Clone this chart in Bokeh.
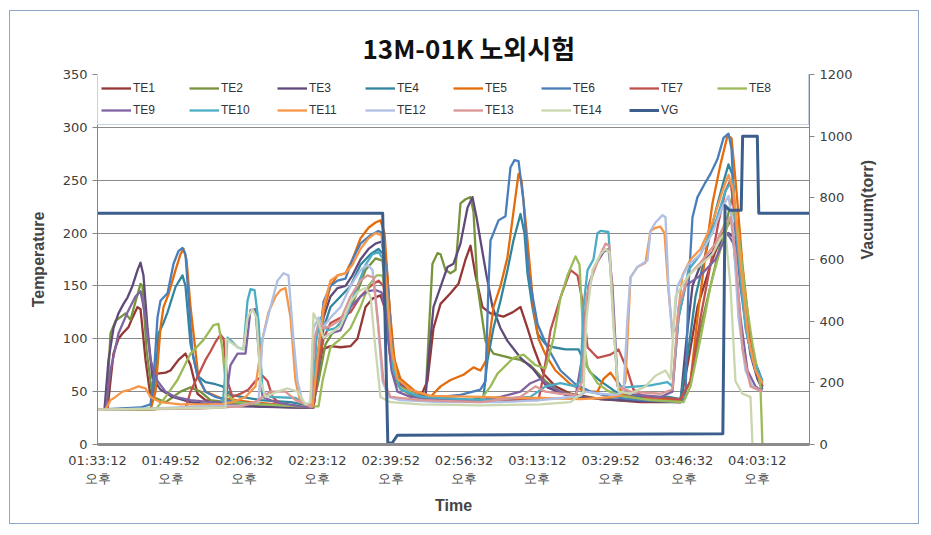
import math
from bokeh.plotting import figure
from bokeh.models import Range1d, LinearAxis, FixedTicker, Legend, LegendItem, InlineStyleSheet
from bokeh.embed import file_html
from bokeh.resources import INLINE

# ---------------- data (time = seconds after 01:33:12 PM) ----------------
tick_times = [0, 1000, 2000, 3000, 4000, 5000, 6000, 7000, 8000, 9000]
tick_labels = ["01:33:12\n오후", "01:49:52\n오후", "02:06:32\n오후", "02:23:12\n오후",
               "02:39:52\n오후", "02:56:32\n오후", "03:13:12\n오후", "03:29:52\n오후",
               "03:46:32\n오후", "04:03:12\n오후"]
temp_ticks = [0, 50, 100, 150, 200, 250, 300, 350]
vac_ticks = [0, 200, 400, 600, 800, 1000, 1200]

te1_t = [0,136,177,218,286,341,423,477,546,587,655,723,764,818,928,996,1105,1200,1269,1364,1473,1814,2223,2769,2933,3015,3069,3178,3315,3451,3546,3656,3751,3860,3915,3997,4065,4201,4406,4501,4583,4679,4815,4924,5020,5088,5156,5251,5361,5538,5661,5770,5865,5947,6083,6247,6452,6861,7407,7952,8061,8184,8361,8498,8634,8702,8798,8907,9002,9070]
te1_v = [33,33,60,86,100,105,111,120,130,128,80,45,60,67,68,70,80,86,75,48,42,38,36,35,35,70,90,93,92,93,100,130,138,141,130,80,58,50,45,60,110,133,143,152,175,188,160,130,124,121,125,130,110,92,67,55,48,43,40,40,80,130,170,195,212,205,150,90,65,55]

te2_t = [0,123,177,246,382,450,518,587,614,668,750,928,1132,1269,1405,1541,2223,2933,3015,3110,3246,3383,3519,3656,3792,3887,3942,4024,4106,4269,4474,4515,4569,4638,4679,4747,4815,4883,4951,5020,5088,5129,5183,5292,5401,5633,5770,5906,6111,6315,6588,7134,7952,8089,8225,8361,8498,8593,8661,8743,8839,8934,9016,9070]
te2_v = [33,33,105,117,124,118,135,152,150,90,45,40,50,54,50,42,36,35,60,95,110,120,140,165,176,174,140,75,55,47,43,100,171,181,180,165,162,165,228,232,234,220,150,98,86,82,80,75,60,50,45,42,41,60,110,150,190,215,235,200,130,85,62,55]

te3_t = [0,95,150,218,286,355,409,477,546,587,627,682,750,859,1023,1269,1541,1951,2769,2946,3015,3083,3178,3274,3383,3478,3587,3697,3792,3874,3942,4024,4106,4269,4474,4515,4583,4679,4774,4856,4951,5047,5115,5170,5224,5306,5388,5497,5592,5770,5947,6138,6384,6861,7407,7952,8034,8116,8225,8429,8607,8702,8798,8907,9002,9070]
te3_v = [33,33,80,110,124,133,139,150,165,172,160,110,63,52,45,40,38,36,35,35,80,120,140,148,150,160,175,185,190,192,170,90,60,48,45,80,130,149,168,171,190,224,234,215,193,160,130,110,98,82,71,54,47,43,41,40,100,150,170,185,200,195,140,85,62,52]

te4_t = [0,723,791,832,900,955,1023,1064,1159,1200,1269,1364,1473,1610,1705,1814,2223,2633,2946,3015,3083,3178,3315,3451,3587,3724,3833,3901,3969,4037,4133,4338,4542,5088,5265,5320,5401,5497,5592,5674,5770,5824,5865,5933,6002,6111,6220,6384,6561,6629,6725,6861,7065,7407,7788,7952,8061,8157,8293,8429,8525,8607,8661,8743,8839,8934,9070]
te4_v = [33,33,60,105,115,125,140,149,160,150,95,65,59,57,55,47,42,40,36,70,110,130,140,150,170,180,185,180,130,80,60,50,45,42,45,80,110,136,165,193,218,200,162,130,105,95,92,90,90,80,68,60,50,45,45,43,90,140,180,220,245,265,255,180,120,85,60]

te5_t = [0,723,791,859,900,968,1064,1132,1173,1214,1269,1310,1378,1473,1678,2087,2769,2946,3015,3083,3178,3274,3383,3478,3587,3697,3792,3860,3915,3983,4051,4133,4338,4542,4679,4815,4992,5129,5224,5306,5401,5497,5592,5674,5743,5783,5865,5947,6015,6111,6247,6452,6656,6820,6902,6997,7079,7161,7407,7952,8089,8184,8293,8388,8498,8593,8648,8716,8798,8907,9002,9070]
te5_v = [33,33,50,110,130,142,165,180,185,175,130,105,62,50,44,40,36,35,80,125,150,160,162,175,195,205,210,212,200,130,80,62,50,45,55,61,66,73,70,80,130,150,177,220,256,250,193,130,100,85,70,57,50,50,62,68,60,47,43,42,60,120,180,228,265,292,290,240,170,100,68,58]

te6_t = [0,587,723,764,818,859,955,1037,1105,1159,1200,1241,1296,1364,1473,1610,1814,2223,2769,2946,3015,3083,3178,3274,3383,3478,3587,3724,3833,3887,3956,4024,4106,4269,4542,4951,5224,5292,5333,5361,5470,5565,5633,5688,5743,5811,5879,6002,6138,6315,6520,6725,6997,7407,7952,8020,8061,8116,8184,8293,8361,8457,8539,8607,8648,8702,8771,8866,8975,9070]
te6_v = [33,35,38,60,120,136,143,171,183,186,180,140,86,65,50,45,41,38,36,35,90,135,150,155,157,175,190,198,202,200,150,80,58,48,44,47,52,60,150,193,212,216,262,269,268,230,162,114,92,70,57,50,45,42,40,45,149,215,234,248,256,270,290,294,280,200,149,101,70,54]

te7_t = [0,1200,1269,1337,1405,1473,1541,1610,1678,1719,1773,1841,1951,2060,2155,2251,2319,2387,2496,2769,2946,3015,3083,3178,3315,3451,3587,3724,3833,3901,3969,4037,4133,4406,4951,6015,6083,6179,6315,6452,6547,6615,6684,6820,6997,7106,7229,7311,7447,7952,8089,8225,8361,8470,8566,8634,8702,8798,8907,9002,9070]
te7_v = [33,34,50,60,70,80,88,97,104,100,60,45,48,52,60,65,60,45,38,36,35,75,100,115,120,125,140,150,155,150,110,70,55,45,42,42,65,108,139,165,160,136,92,82,85,90,70,52,45,43,60,120,170,210,240,250,210,150,95,65,55]

te8_t = [0,791,928,1091,1269,1446,1582,1650,1705,1760,1882,2223,2769,3015,3069,3178,3315,3451,3587,3697,3806,3887,3956,4024,4106,4406,5224,5361,5456,5674,5811,5974,6111,6220,6315,6411,6520,6575,6629,6684,6820,6956,7134,7543,7993,8089,8225,8361,8498,8607,8675,8743,8839,8934,9043,9070]
te8_v = [33,33,45,61,86,99,113,114,90,48,40,38,36,36,60,92,100,110,130,150,160,160,130,80,55,45,42,55,67,82,85,75,72,100,139,160,178,170,98,73,58,51,46,42,40,55,100,150,185,210,222,200,140,95,55,0]

te9_t = [0,109,177,286,409,518,587,655,723,818,928,1064,1269,1541,1746,1814,1910,2019,2087,2155,2196,2251,2428,2769,2933,2987,3042,3178,3315,3451,3587,3683,3792,3874,3942,4010,4092,4269,4679,5224,5497,5770,5906,6043,6179,6315,6520,6629,6697,6793,6902,6970,7024,7093,7202,7679,7843,7925,8020,8225,8429,8593,8675,8771,8866,8975,9070]
te9_v = [33,33,70,105,125,140,145,120,80,60,50,45,42,40,40,75,86,86,127,128,90,45,40,36,35,80,100,105,108,130,140,145,146,144,120,70,50,45,42,42,45,50,58,62,55,50,45,90,150,170,182,185,150,60,48,45,50,120,150,160,175,200,190,120,70,55,50]

te10_t = [0,1705,1746,1773,1841,1910,1991,2046,2087,2142,2196,2251,2360,2701,2837,2933,2987,3042,3137,3246,3383,3519,3656,3751,3833,3901,3969,4037,4133,4406,4951,5361,5906,6111,6315,6520,6588,6629,6684,6765,6820,6861,6970,7011,7093,7202,7543,7775,7843,7925,8061,8225,8429,8566,8661,8730,8839,8934,9070]
te10_v = [33,35,70,101,97,92,90,136,147,146,117,50,45,44,38,36,100,120,108,110,120,145,170,180,182,175,120,70,52,45,43,42,45,55,58,55,60,130,165,175,200,202,201,150,56,54,56,59,55,120,165,180,210,240,250,190,110,80,60]

te11_t = [0,109,177,246,341,450,559,655,723,859,1132,1678,1841,2019,2155,2251,2332,2428,2496,2564,2633,2701,2769,2933,3015,3083,3178,3274,3383,3478,3587,3697,3792,3874,3942,4010,4092,4269,4542,5224,5633,6043,6588,6861,7134,7202,7270,7366,7475,7543,7611,7679,7734,7788,7843,7897,7979,8089,8225,8388,8525,8607,8675,8771,8880,8975,9070]
te11_v = [33,33,42,45,50,52,55,53,45,40,38,38,40,45,55,100,125,140,146,148,120,60,40,36,90,130,155,160,162,170,185,195,200,198,150,90,62,52,46,45,44,44,43,44,46,60,158,168,172,202,205,206,200,146,105,110,160,175,185,210,240,255,240,170,100,70,58]

te12_t = [0,723,1405,1951,2196,2251,2292,2360,2455,2537,2605,2673,2728,2796,2905,2946,3015,3069,3178,3315,3451,3587,3683,3751,3819,3887,3969,4133,4679,5497,6043,6315,6588,6656,6861,7065,7175,7229,7270,7366,7502,7543,7611,7707,7748,7788,7843,7911,8061,8225,8388,8525,8607,8661,8743,8839,8934,9070]
te12_v = [33,34,36,37,40,100,111,130,155,162,160,100,60,40,36,110,120,110,120,130,150,165,170,165,120,60,45,42,40,40,42,44,46,50,48,47,50,120,158,168,174,202,210,217,215,150,100,150,170,180,200,225,235,210,120,70,55,50]

te13_t = [0,1405,1951,2155,2251,2360,2564,2701,2905,2960,3015,3083,3178,3315,3451,3587,3683,3765,3833,3901,3997,4406,5224,5770,5974,6111,6315,6520,6615,6670,6752,6861,6929,6984,7038,7093,7270,7679,7843,7925,8061,8225,8429,8566,8634,8702,8798,8907,9070]
te13_v = [33,34,36,40,45,50,50,42,36,100,115,110,112,118,140,155,160,158,110,60,45,42,40,45,55,50,48,47,60,140,160,180,190,188,120,55,50,48,52,130,160,172,190,210,215,180,90,55,50]

te14_t = [0,1746,1760,1814,1910,1991,2046,2114,2169,2223,2292,2455,2592,2728,2837,2905,2946,3015,3083,3178,3315,3451,3560,3656,3724,3792,3860,3997,4406,5224,6043,6452,6629,6670,6752,6861,6929,6984,7038,7106,7270,7475,7611,7748,7816,7884,8061,8225,8388,8498,8566,8634,8702,8798,8907,8934,9712]
te14_v = [33,35,100,97,92,90,120,128,120,60,45,50,53,50,38,40,124,115,101,105,112,135,145,148,140,90,45,40,38,37,38,40,50,120,165,180,185,182,110,50,48,55,65,70,62,140,160,170,180,195,200,150,60,48,45,0,0]

vg_t = [0,3890,3960,4020,4090,8530,8560,8620,8780,8800,9000,9020,9712]
vg_v = [750,750,5,5,30,35,775,760,760,1000,1000,750,750]

names = ["TE1","TE2","TE3","TE4","TE5","TE6","TE7","TE8","TE9","TE10","TE11","TE12","TE13","TE14","VG"]
colors = ["#953735","#77933C","#604A7B","#31859C","#E46C0A","#4A7EBB","#C0504D","#9BBB59",
          "#8064A2","#4BACC6","#F79646","#AFC0E4","#D99694","#C9D6AE","#3B5E8C"]
series_t = [te1_t,te2_t,te3_t,te4_t,te5_t,te6_t,te7_t,te8_t,te9_t,te10_t,te11_t,te12_t,te13_t,te14_t,vg_t]
series_v = [te1_v,te2_v,te3_v,te4_v,te5_v,te6_v,te7_v,te8_v,te9_v,te10_v,te11_v,te12_v,te13_v,te14_v,vg_v]

# ---------------- figure ----------------
p = figure(width=931, height=535, output_backend="svg", toolbar_location=None,
           x_range=Range1d(0, 9712), y_range=Range1d(0, 350),
           min_border_left=97, min_border_right=122, min_border_top=74, min_border_bottom=91)
p.extra_y_ranges = {"vac": Range1d(0, 1200)}
p.outline_line_color = None
p.background_fill_color = "white"
p.border_fill_color = "white"
p.stylesheets = [InlineStyleSheet(css=(
    ":host { position: relative; }"
    ":host::after { content: ''; position: absolute; left: 9px; top: 10px; width: 910px; height: 514px;"
    " border: 1px solid #8ea6c8; pointer-events: none; z-index: 100; box-sizing: border-box; }"))]

p.title.text = "13M-01K 노외시험"
p.title.align = "left"
p.title.offset = 265
p.title.text_font = "Noto Sans CJK KR"
p.title.text_font_size = "26px"
p.title.text_font_style = "bold"
p.title.text_color = "#111111"
p.title.standoff = 17

p.xgrid.visible = False
p.ygrid.grid_line_color = "#8a8a8a"
p.ygrid.grid_line_width = 1

# x axis
xa = p.xaxis[0]
xa.ticker = FixedTicker(ticks=tick_times)
xa.major_label_overrides = {t: l for t, l in zip(tick_times, tick_labels)}
xa.axis_label = "Time"
xa.axis_label_text_font = "Liberation Sans"
xa.axis_label_text_font_style = "bold"
xa.axis_label_text_font_size = "16px"
xa.axis_label_standoff = 8
xa.major_label_text_font = "DejaVu Sans"
xa.major_label_text_font_size = "13px"
xa.major_label_text_color = "#404040"
xa.major_label_standoff = 8
xa.major_tick_out = 0
xa.major_tick_in = 0
xa.minor_tick_out = 0
xa.minor_tick_in = 0
xa.axis_line_color = "#8c8c8c"
xa.axis_line_width = 3

# left axis
ya = p.yaxis[0]
ya.ticker = FixedTicker(ticks=temp_ticks)
ya.axis_label = "Temperature"
ya.axis_label_text_font = "Liberation Sans"
ya.axis_label_text_font_style = "bold"
ya.axis_label_text_font_size = "16px"
ya.axis_label_standoff = 13
ya.major_label_text_font = "DejaVu Sans"
ya.major_label_text_font_size = "13px"
ya.major_label_text_color = "#404040"
ya.major_label_standoff = 5
ya.major_tick_out = 5
ya.major_tick_in = 0
ya.minor_tick_out = 0
ya.minor_tick_in = 0
ya.axis_line_color = "#868686"
ya.major_tick_line_color = "#868686"

# right axis
ra = LinearAxis(y_range_name="vac", ticker=FixedTicker(ticks=vac_ticks), axis_label="Vacuum(torr)")
ra.axis_label_orientation = math.pi / 2
ra.axis_label_text_font = "Liberation Sans"
ra.axis_label_text_font_style = "bold"
ra.axis_label_text_font_size = "16px"
ra.axis_label_standoff = 12
ra.major_label_text_font = "DejaVu Sans"
ra.major_label_text_font_size = "13px"
ra.major_label_text_color = "#404040"
ra.major_label_standoff = 5
ra.major_tick_out = 5
ra.major_tick_in = 0
ra.minor_tick_out = 0
ra.minor_tick_in = 0
ra.axis_line_color = "#868686"
ra.major_tick_line_color = "#868686"
p.add_layout(ra, "right")

items = []
for name, c, tt, vv in zip(names, colors, series_t, series_v):
    if name == "VG":
        r = p.line(tt, vv, color=c, line_width=3, line_join="round", y_range_name="vac")
    else:
        r = p.line(tt, vv, color=c, line_width=2.3, line_join="round")
    items.append(LegendItem(label=name, renderers=[r]))

legend = Legend(items=items, location=(0, 319), orientation="horizontal", nrows=2,
                glyph_width=30, glyph_height=22, label_width=56, label_height=22,
                label_standoff=2, spacing=0, padding=3, margin=0,
                label_text_font="Liberation Sans", label_text_font_size="12px",
                label_text_color="#333333",
                border_line_color="#8ea6c8", border_line_width=1,
                background_fill_color="white", background_fill_alpha=1.0)
p.add_layout(legend)

open("out.html", "w").write(file_html(p, INLINE))
